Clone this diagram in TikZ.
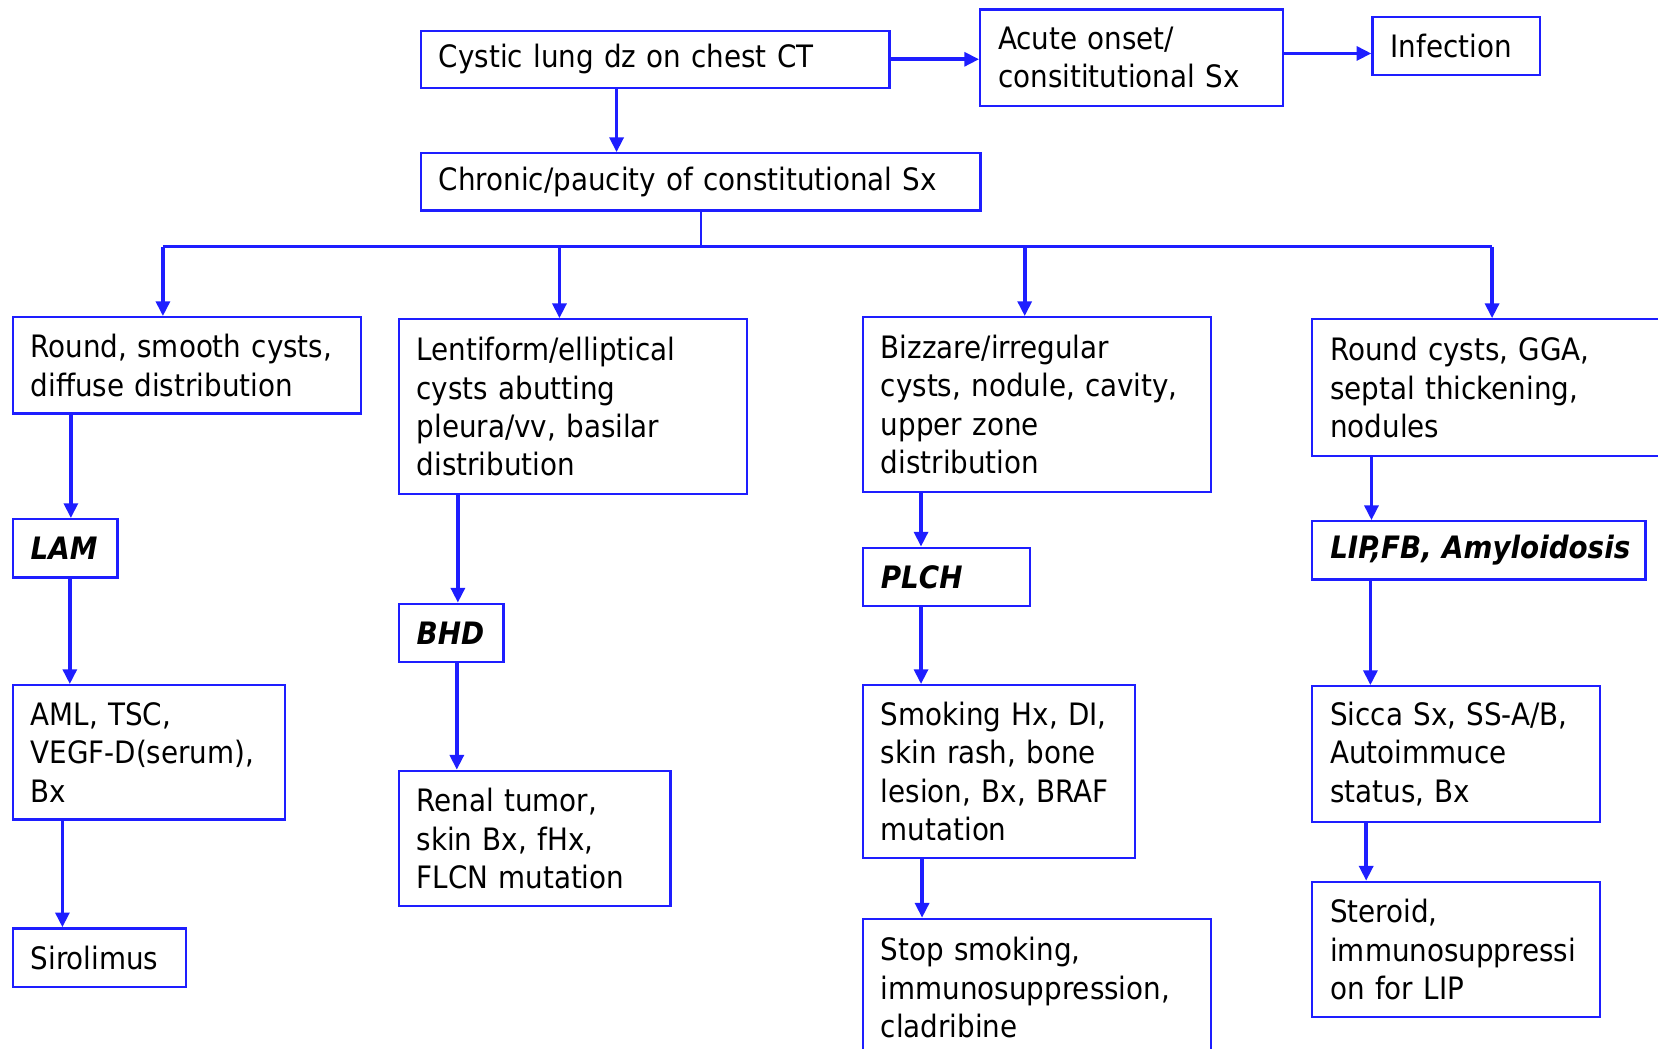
\documentclass[tikz,border=0pt]{standalone}
\usepackage{fontspec}
\setmainfont{DejaVu Sans Condensed}
\usetikzlibrary{arrows.meta}
\definecolor{flowblue}{RGB}{30,30,255}

\begin{document}
\begin{tikzpicture}[x=0.01cm, y=-0.01cm,
        box/.style 2 args={draw=flowblue, line width=0.6pt, anchor=north west,
            inner xsep=0.17cm, inner ysep=0pt, align=left,
            minimum width=#1cm, minimum height=#2cm, text width=#1cm-0.34cm,
            font=\fontsize{8.3}{10.3}\selectfont},
        arr/.style={draw=flowblue, line width=1pt, -{Triangle[length=0.14cm, width=0.13cm]}},
        link/.style={draw=flowblue, line width=0.6pt}]
        \useasboundingbox (0, 0) rectangle (1568, 992);
        \clip (0, 0) rectangle (1568, 992);

        % Top
        \node[box={4.43}{0.54}] (cyst) at (397, 28) {Cystic lung dz on chest CT};
        \node[box={2.86}{0.91}] (acute) at (926, 8) {Acute onset/\\consititutional Sx};
        \node[box={1.58}{0.55}] (infect) at (1297, 15) {Infection};
        \node[box={5.29}{0.54}] (chronic) at (397, 144) {Chronic/paucity of constitutional Sx};

        % Patterns
        \node[box={3.29}{0.91}] (round) at (11, 299) {Round, smooth cysts,\\diffuse distribution};
        \node[box={3.29}{1.65}] (lenti) at (376, 301) {Lentiform/elliptical\\cysts abutting\\pleura/vv, basilar\\distribution};
        \node[box={3.29}{1.65}] (bizz) at (815, 299) {Bizzare/irregular\\cysts, nodule, cavity,\\upper zone\\distribution};
        \node[box={3.40}{1.29}] (rcyst) at (1240, 301) {Round cysts, GGA,\\septal thickening,\\nodules};

        % Diagnoses
        \node[box={0.99}{0.55}] (lam) at (11, 490) {\textbf{\textit{LAM}}};
        \node[box={0.99}{0.55}] (bhd) at (376, 570) {\textbf{\textit{BHD}}};
        \node[box={1.58}{0.55}] (plch) at (815, 517) {\textbf{\textit{PLCH}}};
        \node[box={3.15}{0.55}] (lip) at (1240, 492) {\mbox{\textbf{\textit{LIP,FB, Amyloidosis}}}};

        % Work-up
        \node[box={2.57}{1.27}] (aml) at (11, 647) {AML, TSC,\\VEGF-D(serum),\\Bx};
        \node[box={2.57}{1.28}] (renal) at (376, 728) {Renal tumor,\\skin Bx, fHx,\\FLCN mutation};
        \node[box={2.57}{1.63}] (smoke) at (815, 647) {Smoking Hx, DI,\\skin rash, bone\\lesion, Bx, BRAF\\mutation};
        \node[box={2.72}{1.28}] (sicca) at (1240, 648) {Sicca Sx, SS-A/B,\\Autoimmuce\\status, Bx};

        % Treatment
        \node[box={1.64}{0.55}] (siro) at (11, 877) {Sirolimus};
        \node[box={3.29}{1.30}] (stop) at (815, 868) {Stop smoking,\\immunosuppression,\\cladribine};
        \node[box={2.72}{1.28}] (ster) at (1240, 833) {Steroid,\\immunosuppressi\\on for LIP};

        % Top arrows
        \draw[arr] (cyst.east) -- (cyst.east -| acute.west);
        \draw[arr] ([yshift=0.04cm]acute.east) -- ([yshift=0.04cm]acute.east -| infect.west);
        \draw[arr] ([xshift=1.86cm]cyst.south west) -- ([xshift=1.86cm]chronic.north west);

        % Bus and drops
        \draw[link] (chronic.south) -- ++(0, 33) coordinate (bus);
        \coordinate (d1) at ([xshift=1.43cm]round.north west);
        \coordinate (d2) at ([xshift=1.53cm]lenti.north west);
        \coordinate (d3) at ([xshift=1.54cm]bizz.north west);
        \coordinate (d4) at ([xshift=1.71cm]rcyst.north west);
        \draw[link] (d1 |- bus) -- (d4 |- bus);
        \foreach \d in {d1, d2, d3, d4}
            \draw[arr] (\d |- bus) -- (\d);

        % Column arrows
        \draw[arr] ([xshift=0.56cm]round.south west) -- ([xshift=0.56cm]lam.north west);
        \draw[arr] ([xshift=0.55cm]lam.south west) -- ([xshift=0.55cm]aml.north west);
        \draw[arr] ([xshift=0.48cm]aml.south west) -- ([xshift=0.48cm]siro.north west);

        \draw[arr] ([xshift=0.57cm]lenti.south west) -- ([xshift=0.57cm]bhd.north west);
        \draw[arr] ([xshift=0.56cm]bhd.south west) -- ([xshift=0.56cm]renal.north west);

        \draw[arr] ([xshift=0.56cm]bizz.south west) -- ([xshift=0.56cm]plch.north west);
        \draw[arr] ([xshift=0.56cm]plch.south west) -- ([xshift=0.56cm]smoke.north west);
        \draw[arr] ([xshift=0.57cm]smoke.south west) -- ([xshift=0.57cm]stop.north west);

        \draw[arr] ([xshift=0.57cm]rcyst.south west) -- ([xshift=0.57cm]lip.north west);
        \draw[arr] ([xshift=0.56cm]lip.south west) -- ([xshift=0.56cm]sicca.north west);
        \draw[arr] ([xshift=0.52cm]sicca.south west) -- ([xshift=0.52cm]ster.north west);

    \end{tikzpicture}
\end{document}
